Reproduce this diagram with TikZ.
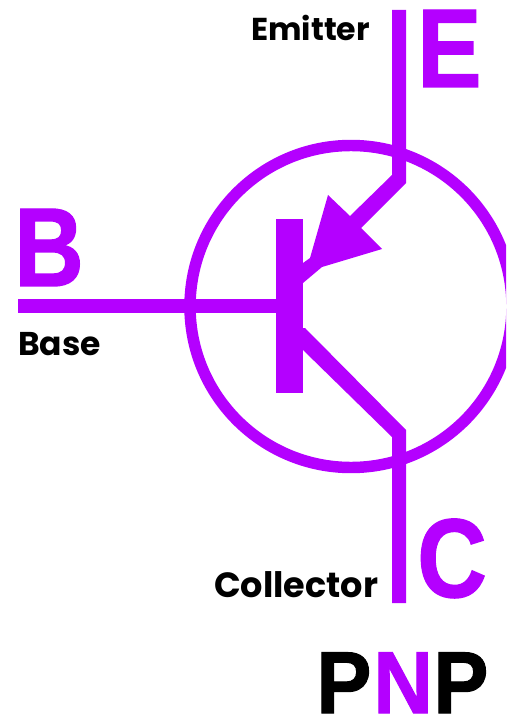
\documentclass[tikz,border=0pt]{standalone}
\usepackage{graphicx}
\usepackage{fontspec}
\setmainfont{Liberation Sans}
\newfontfamily\geo{Poppins}
\newfontfamily\heavy[BoldFeatures={FakeBold=1.2}]{Liberation Sans}
\definecolor{pv}{RGB}{180,0,255}
\newcommand{\bigletter}[1]{\scalebox{.86}[1]{\fontsize{84}{84}\selectfont\heavy\bfseries #1}}
\newcommand{\pnpletter}[1]{\scalebox{.94}[1]{#1}}
\tikzset{
 big/.style={text=pv,inner sep=0pt,anchor=base west},
 small/.style={text=black,inner sep=0pt,anchor=base west,font=\geo\bfseries},
 pnp/.style={font=\fontsize{66}{66}\selectfont\heavy\bfseries,inner sep=0pt,anchor=base west},
 shape fill/.style={fill=pv,draw=none}
}
\begin{document}
\begin{tikzpicture}[x=0.75pt,y=-0.75pt]
\useasboundingbox (0,0) rectangle (506,716);
\fill[white] (0,0) rectangle (506,716);
\begin{scope}
\clip (0,0) rectangle (506,716);
\node[draw=pv,line width=8.6pt,circle,minimum size=241.5pt,inner sep=0pt] (ring) at (351,306.5) {};
\end{scope}
% emitter lead with arrowhead
\fill[shape fill] (392,10) -- (406,10) -- (406,183) -- (361,228) -- (382,249) -- (322,267)
  -- (303,283) -- (303,263) -- (310,258) -- (328,195) -- (350,216) -- (392,175) -- cycle;
% collector lead
\fill[shape fill] (303,328) -- (305,328) -- (406,430) -- (406,603) -- (392,603) -- (392,437) -- (303,350) -- cycle;
% base lead and bar
\fill[shape fill] (18,299) rectangle (290,313);
\fill[shape fill] (276,219) rectangle (303,393);
\node[big] (E) at (417,87) {\bigletter{E}};
\node[big] (B) at (14,286) {\bigletter{B}};
\node[big] (C) at (417,597) {\bigletter{C}};
\node[small] (em) at (251,41) {\resizebox{89pt}{!}{Emitter}};
\node[small] (ba) at (18,355) {\resizebox{62pt}{!}{Base}};
\node[small] (co) at (214,597) {\resizebox{123pt}{!}{Collector}};
\node[pnp] (p1) at (316,713) {\pnpletter{P}};
\node[pnp,text=pv] (n) at (373,713) {\pnpletter{N}};
\node[pnp] (p2) at (433,713) {\pnpletter{P}};
\end{tikzpicture}
\end{document}
